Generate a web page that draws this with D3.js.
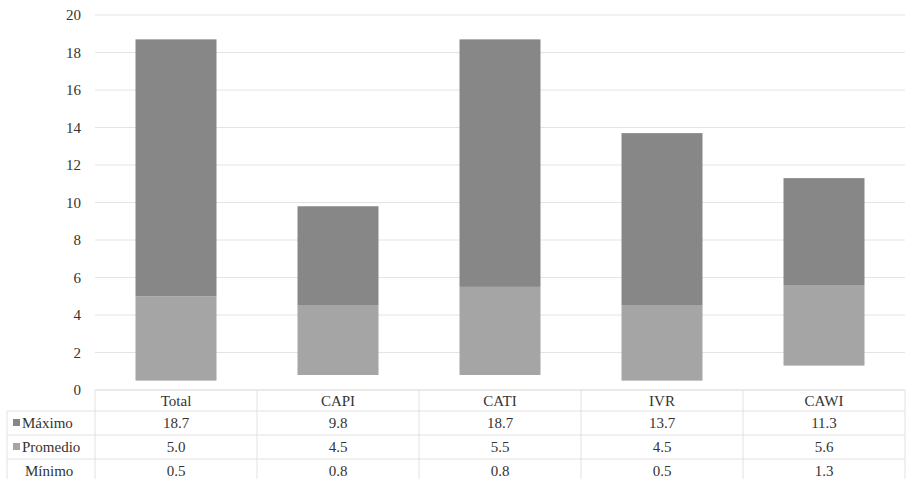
<!DOCTYPE html>
<html>
<head>
<meta charset="utf-8">
<script src="https://cdn.jsdelivr.net/npm/d3@7"></script>
<style>
  body { margin: 0; background: #fff; }
  svg text { fill: #333; }
</style>
</head>
<body>
<div id="chart"></div>
<script>
// data
const categories = ["Total", "CAPI", "CATI", "IVR", "CAWI"];
const maximo   = [18.7, 9.8, 18.7, 13.7, 11.3];
const promedio = [5.0, 4.5, 5.5, 4.5, 5.6];
const minimo   = [0.5, 0.8, 0.8, 0.5, 1.3];
const yTicks = [0, 2, 4, 6, 8, 10, 12, 14, 16, 18, 20];

const W = 911, H = 479;
const plotLeft = 95, plotRight = 905, plotTop = 15, plotBottom = 390;
const fontFamily = "Times New Roman, Tinos, Liberation Serif, DejaVu Serif, serif";
const fs = 15;

const svg = d3.select("#chart").append("svg")
    .attr("width", W)
    .attr("height", H)
    .style("font-family", fontFamily);

const x = d3.scaleBand()
    .domain(categories)
    .range([plotLeft, plotRight])
    .paddingInner(0.5)
    .paddingOuter(0.25);

const y = d3.scaleLinear()
    .domain([0, 20])
    .range([plotBottom, plotTop]);

// grid lines
svg.append("g")
  .selectAll("line")
  .data(yTicks)
  .join("line")
    .attr("x1", plotLeft)
    .attr("x2", plotRight)
    .attr("y1", d => y(d))
    .attr("y2", d => y(d))
    .attr("stroke", "#e4e4e4")
    .attr("stroke-width", 1);

// y axis labels
svg.append("g")
  .selectAll("text")
  .data(yTicks)
  .join("text")
    .attr("x", 81)
    .attr("y", d => y(d))
    .attr("dy", "0.35em")
    .attr("text-anchor", "end")
    .attr("font-size", fs)
    .text(d => d);

const rows = categories.map((c, i) => ({c: c, max: maximo[i], avg: promedio[i], min: minimo[i]}));

// lower part: minimo -> promedio
svg.append("g")
  .selectAll("rect")
  .data(rows)
  .join("rect")
    .attr("x", d => x(d.c))
    .attr("width", x.bandwidth())
    .attr("y", d => y(d.avg))
    .attr("height", d => y(d.min) - y(d.avg))
    .attr("fill", "#a5a5a5");

// upper part: promedio -> maximo
svg.append("g")
  .selectAll("rect")
  .data(rows)
  .join("rect")
    .attr("x", d => x(d.c))
    .attr("width", x.bandwidth())
    .attr("y", d => y(d.max))
    .attr("height", d => y(d.avg) - y(d.max))
    .attr("fill", "#878787");

// data table
const rowY = [390, 411, 435, 459, 483];
const tableLeft = 7;
const lineColor = "#e2e2e2";
const table = svg.append("g");

// horizontal lines
table.selectAll("line.h")
  .data(rowY.slice(0, 4))
  .join("line")
    .attr("class", "h")
    .attr("x1", (d, i) => i === 0 ? plotLeft : tableLeft)
    .attr("x2", plotRight)
    .attr("y1", d => d)
    .attr("y2", d => d)
    .attr("stroke", lineColor);

// vertical lines
const vx = [plotLeft].concat(categories.map(c => x(c) + x.bandwidth() / 2 + x.step() / 2));
table.selectAll("line.v")
  .data(vx)
  .join("line")
    .attr("class", "v")
    .attr("x1", d => d)
    .attr("x2", d => d)
    .attr("y1", rowY[0])
    .attr("y2", H)
    .attr("stroke", lineColor);
table.append("line")
    .attr("x1", tableLeft).attr("x2", tableLeft)
    .attr("y1", rowY[1]).attr("y2", H)
    .attr("stroke", lineColor);

// header
table.selectAll("text.cat")
  .data(categories)
  .join("text")
    .attr("class", "cat")
    .attr("x", d => x(d) + x.bandwidth() / 2)
    .attr("y", (rowY[0] + rowY[1]) / 2)
    .attr("dy", "0.35em")
    .attr("text-anchor", "middle")
    .attr("font-size", fs)
    .text(d => d);

const series = [
  {name: "Máximo", values: maximo, color: "#878787"},
  {name: "Promedio", values: promedio, color: "#a5a5a5"},
  {name: "Mínimo", values: minimo, color: null}
];

series.forEach((s, r) => {
  const cy = (rowY[r + 1] + rowY[r + 2]) / 2;
  if (s.color) {
    table.append("rect")
        .attr("x", 13).attr("y", cy - 4)
        .attr("width", 7).attr("height", 7)
        .attr("fill", s.color);
  }
  table.append("text")
      .attr("x", s.color ? 22 : 25)
      .attr("y", cy)
      .attr("dy", "0.35em")
      .attr("font-size", fs)
      .text(s.name);
  table.selectAll(null)
    .data(s.values)
    .join("text")
      .attr("x", (d, i) => x(categories[i]) + x.bandwidth() / 2)
      .attr("y", cy)
      .attr("dy", "0.35em")
      .attr("text-anchor", "middle")
      .attr("font-size", fs)
      .text(d => d.toFixed(1));
});
</script>
</body>
</html>
